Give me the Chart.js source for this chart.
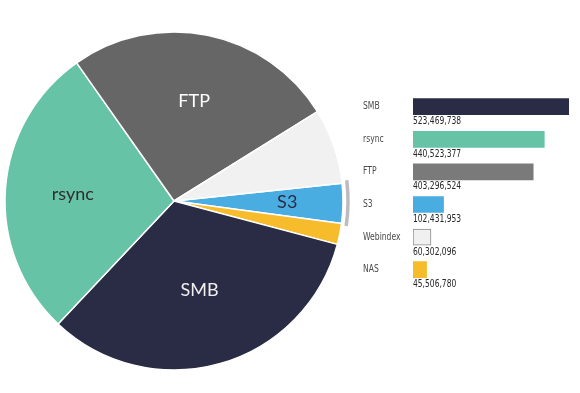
<!DOCTYPE html>
<html>
<head>
<meta charset="utf-8">
<script src="https://cdn.jsdelivr.net/npm/chart.js@4"></script>
<style>
  html, body { margin: 0; padding: 0; background: #fff; }
  #wrap { position: relative; width: 580px; height: 393px; overflow: hidden; }
  #pieChart { position: absolute; left: 0; top: 0; }
  #barChart { position: absolute; left: 362px; top: 85px; }
</style>
</head>
<body>
<div id="wrap">
  <canvas id="pieChart" width="360" height="393"></canvas>
  <canvas id="barChart" width="207" height="216"></canvas>
</div>
<script>
// pie slices, clockwise from S3 (share of the circle, %)
const pieLabels = ['S3', 'NAS', 'SMB', 'rsync', 'FTP', 'Webindex'];
const pieShares = [3.8, 2.0, 32.9, 28.2, 25.9, 7.2];
const pieColors = ['#4aade2', '#f6bc2b', '#2a2c45', '#66c3a5', '#666666', '#f1f1f1'];
const pieTextColors = ['#2a2c45', null, '#eeeeee', '#2e2e2e', '#ffffff', null];
const pieTextRadius = [0.67, 0, 0.55, 0.6, 0.6, 0];

// bar list on the right
const barLabels = ['SMB', 'rsync', 'FTP', 'S3', 'Webindex', 'NAS'];
const barValues = [523469738, 440523377, 403296524, 102431953, 60302096, 45506780];
const barColors = ['#2a2c45', '#66c3a5', '#7a7a7a', '#4aade2', '#f0f0f0', '#f6bc2b'];

const narrowFont = "'Liberation Sans Narrow', 'DejaVu Sans Condensed', sans-serif";

document.addEventListener('DOMContentLoaded', () => {
  initPie();
  initBars();
});

function initPie() {
  const sliceLabels = {
    id: 'sliceLabels',
    afterDatasetsDraw(chart) {
      const { ctx } = chart;
      const meta = chart.getDatasetMeta(0);
      ctx.save();
      ctx.font = '18px Lato, "Open Sans", sans-serif';
      ctx.textAlign = 'center';
      ctx.textBaseline = 'middle';
      meta.data.forEach((arc, i) => {
        if (!pieTextColors[i]) return;
        const mid = (arc.startAngle + arc.endAngle) / 2;
        const r = arc.outerRadius * pieTextRadius[i];
        ctx.fillStyle = pieTextColors[i];
        ctx.fillText(pieLabels[i], arc.x + Math.cos(mid) * r, arc.y + Math.sin(mid) * r);
      });

      // grey marker arc around the S3 slice
      const s3 = meta.data[pieLabels.indexOf('S3')];
      ctx.beginPath();
      ctx.strokeStyle = '#bcbcbc';
      ctx.lineWidth = 3.5;
      ctx.lineCap = 'butt';
      ctx.arc(s3.x, s3.y, s3.outerRadius + 5, s3.startAngle - 0.015, s3.endAngle + 0.01);
      ctx.stroke();
      ctx.restore();
    }
  };

  new Chart(document.getElementById('pieChart'), {
    type: 'pie',
    data: {
      labels: pieLabels,
      datasets: [{
        data: pieShares,
        backgroundColor: pieColors,
        borderColor: '#ffffff',
        borderWidth: 1.5
      }]
    },
    options: {
      responsive: false,
      animation: false,
      rotation: 84,
      radius: 169,
      layout: { padding: { left: 0, right: 12, top: 9, bottom: 0 } },
      plugins: {
        legend: { display: false },
        tooltip: { enabled: false }
      }
    },
    plugins: [sliceLabels]
  });
}

function initBars() {
  // narrow text: the original uses a condensed face, so squeeze horizontally
  const drawNarrow = (ctx, text, x, y, squeeze) => {
    ctx.save();
    ctx.translate(x, y);
    ctx.scale(squeeze, 1);
    ctx.fillText(text, 0, 0);
    ctx.restore();
  };

  const barText = {
    id: 'barText',
    afterDatasetsDraw(chart) {
      const { ctx } = chart;
      const meta = chart.getDatasetMeta(0);
      const yScale = chart.scales.y;
      ctx.save();

      ctx.font = '10px ' + narrowFont;
      ctx.fillStyle = '#4a4a4a';
      ctx.textAlign = 'left';
      ctx.textBaseline = 'middle';
      barLabels.forEach((label, i) => {
        drawNarrow(ctx, label, yScale.left + 1, yScale.getPixelForValue(i), 0.85);
      });

      ctx.font = '10.5px ' + narrowFont;
      ctx.fillStyle = '#262626';
      ctx.textBaseline = 'top';
      meta.data.forEach((bar, i) => {
        drawNarrow(ctx, barValues[i].toLocaleString('en-US'), bar.base, bar.y + bar.height / 2 + 1.5, 0.8);
      });
      ctx.restore();
    }
  };

  new Chart(document.getElementById('barChart'), {
    type: 'bar',
    data: {
      labels: barLabels,
      datasets: [{
        data: barValues,
        backgroundColor: barColors,
        borderColor: barLabels.map(l => l === 'Webindex' ? '#8a8a8a' : 'rgba(0,0,0,0)'),
        borderWidth: barLabels.map(l => l === 'Webindex' ? 1 : 0),
        borderSkipped: false,
        barThickness: 16
      }]
    },
    options: {
      indexAxis: 'y',
      responsive: false,
      animation: false,
      layout: { padding: { left: 0, right: 0, top: 0, bottom: 15 } },
      plugins: {
        legend: { display: false },
        tooltip: { enabled: false }
      },
      scales: {
        x: {
          display: false,
          min: 0,
          max: barValues[0]
        },
        y: {
          grid: { display: false },
          border: { display: false },
          afterFit: (scale) => { scale.width = 51; },
          ticks: {
            crossAlign: 'far',
            padding: 0,
            color: 'rgba(0,0,0,0)',
            font: { size: 9, family: narrowFont }
          }
        }
      }
    },
    plugins: [barText]
  });
}
</script>
</body>
</html>
